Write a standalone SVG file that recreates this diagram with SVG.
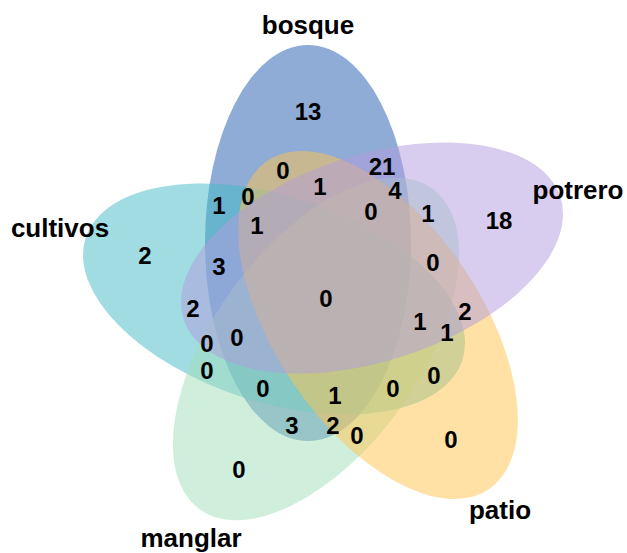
<svg xmlns="http://www.w3.org/2000/svg" width="627" height="553" viewBox="0 0 627 553">
<style>
.set{fill-opacity:0.5;stroke:none}
.cat{font-family:"Liberation Sans",Arial,sans-serif;font-weight:bold;font-size:26px;text-anchor:middle;fill:#000}
.num{font-family:"Liberation Sans",Arial,sans-serif;font-weight:bold;font-size:24px;text-anchor:middle;fill:#000}
</style>
<rect width="627" height="553" fill="#ffffff"/>
<g id="bosque">
<ellipse class="set" cx="0" cy="0" rx="198" ry="103" fill="#1F59AD" transform="translate(308,243) rotate(-90)"/>
<text class="cat" x="308" y="34">bosque</text>
</g>
<g id="cultivos">
<ellipse class="set" cx="0" cy="0" rx="198" ry="103" fill="#41B9C5" transform="translate(274,299) rotate(18)"/>
<text class="cat" x="60" y="237">cultivos</text>
</g>
<g id="manglar">
<ellipse class="set" cx="0" cy="0" rx="198" ry="103" fill="#A1DDB9" transform="translate(316,349) rotate(-54)"/>
<text class="cat" x="191" y="547">manglar</text>
</g>
<g id="patio">
<ellipse class="set" cx="0" cy="0" rx="198" ry="103" fill="#FFC34B" transform="translate(378,325) rotate(56)"/>
<text class="cat" x="500" y="519">patio</text>
</g>
<g id="potrero">
<ellipse class="set" cx="0" cy="0" rx="198" ry="103" fill="#B19BDD" transform="translate(372,258) rotate(-18)"/>
<text class="cat" x="578" y="199">potrero</text>
</g>
<g id="counts">
<text class="num" x="308" y="120">13</text>
<text class="num" x="283" y="179">0</text>
<text class="num" x="382" y="175">21</text>
<text class="num" x="320" y="195">1</text>
<text class="num" x="248" y="205">0</text>
<text class="num" x="395" y="199">4</text>
<text class="num" x="219" y="214">1</text>
<text class="num" x="371" y="220">0</text>
<text class="num" x="428" y="222">1</text>
<text class="num" x="257" y="234">1</text>
<text class="num" x="499" y="229">18</text>
<text class="num" x="145" y="264">2</text>
<text class="num" x="219" y="275">3</text>
<text class="num" x="433" y="271">0</text>
<text class="num" x="326" y="307">0</text>
<text class="num" x="193" y="317">2</text>
<text class="num" x="465" y="320">2</text>
<text class="num" x="420" y="330">1</text>
<text class="num" x="447" y="341">1</text>
<text class="num" x="207" y="352">0</text>
<text class="num" x="237" y="346">0</text>
<text class="num" x="207" y="379">0</text>
<text class="num" x="434" y="384">0</text>
<text class="num" x="263" y="397">0</text>
<text class="num" x="335" y="404">1</text>
<text class="num" x="393" y="397">0</text>
<text class="num" x="292" y="434">3</text>
<text class="num" x="333" y="434">2</text>
<text class="num" x="357" y="444">0</text>
<text class="num" x="451" y="448">0</text>
<text class="num" x="239" y="478">0</text>
</g>
</svg>
